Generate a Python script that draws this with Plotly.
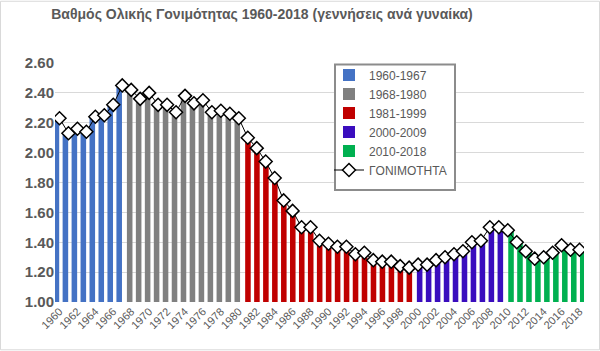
import plotly.graph_objects as go

years = list(range(1960, 2019))
tfr = [2.23, 2.13, 2.16, 2.14, 2.24, 2.25, 2.32, 2.45, 2.42, 2.36,
       2.40, 2.32, 2.32, 2.27, 2.38, 2.33, 2.35, 2.27, 2.28, 2.26,
       2.23, 2.10, 2.03, 1.94, 1.83, 1.68, 1.61, 1.50, 1.50, 1.41,
       1.39, 1.37, 1.37, 1.32, 1.33, 1.28, 1.27, 1.27, 1.24, 1.23,
       1.25, 1.25, 1.28, 1.30, 1.32, 1.34, 1.40, 1.41, 1.50, 1.50,
       1.48, 1.40, 1.34, 1.29, 1.30, 1.33, 1.38, 1.35, 1.35]

groups = ["1960-1967", "1968-1980", "1981-1999", "2000-2009", "2010-2018"]
group_ranges = [(1960, 1967), (1968, 1980), (1981, 1999), (2000, 2009), (2010, 2018)]
group_colors = ["#4472C4", "#808080", "#C00000", "#3A0DBE", "#00B050"]
group_offsets = [-0.34, -0.17, 0.02, 0.17, 0.36]
line_name = "ΓΟΝΙΜΟΤΗΤΑ"
title = "Βαθμός Ολικής Γονιμότητας 1960-2018 (γεννήσεις ανά γυναίκα)"

TXT = "#595959"
W = 0.62

fig = go.Figure()
for name, (a, b), col, off in zip(groups, group_ranges, group_colors, group_offsets):
    xs = [y for y in years if a <= y <= b]
    ys = [tfr[years.index(y)] for y in xs]
    fig.add_trace(go.Bar(x=xs, y=ys, name=name, marker=dict(color=col, line=dict(width=0)),
                         width=W, offset=off - W / 2))

fig.add_trace(go.Scatter(x=years, y=tfr, name=line_name, mode="lines+markers",
                         line=dict(color="black", width=1),
                         marker=dict(symbol="diamond", size=10, color="white",
                                     line=dict(color="black", width=1.5))))

L, R, T, B = 55, 16, 62.5, 48.5
pw = 600 - L - R
ph = 351 - T - B

def px_x(p):
    return (p - L) / pw

def px_y(p):
    return (351 - B - p) / ph

fig.update_layout(
    width=600, height=351,
    margin=dict(l=L, r=R, t=T, b=B),
    paper_bgcolor="white", plot_bgcolor="white",
    barmode="overlay",
    font=dict(family="Liberation Sans, Arial, sans-serif", color=TXT),
    title=dict(text="<b>" + title + "</b>", x=262 / 600, xanchor="center", xref="container",
               y=1 - 14 / 351, yanchor="middle", yref="container",
               font=dict(size=14, color=TXT)),
    xaxis=dict(range=[1959.5, 2018.5], tickvals=years[::2], ticktext=[str(y) for y in years[::2]],
               tickangle=-45, tickfont=dict(size=11, color=TXT), showgrid=False,
               zeroline=False, showline=False, ticks=""),
    yaxis=dict(range=[1.0, 2.6], dtick=0.2, tickformat=".2f",
               tickfont=dict(size=15, color=TXT, weight="bold"),
               gridcolor="#D9D9D9", gridwidth=1, zeroline=False, showline=False, ticks=""),
    legend=dict(x=px_x(329), y=px_y(60), xanchor="left", yanchor="top",
                bgcolor="rgba(0,0,0,0)", borderwidth=0,
                font=dict(size=12, color=TXT), itemwidth=30),
    shapes=[
        dict(type="rect", xref="paper", yref="paper",
             x0=px_x(335), x1=px_x(455), y0=px_y(64), y1=px_y(190),
             line=dict(color="#8C8C8C", width=2), fillcolor="white", layer="above"),
        dict(type="rect", xref="paper", yref="paper",
             x0=px_x(0.5), x1=px_x(599.5), y0=px_y(0.5), y1=px_y(350.5),
             line=dict(color="#D9D9D9", width=1), fillcolor="rgba(0,0,0,0)", layer="below"),
    ],
)

fig.write_html("out.html")
